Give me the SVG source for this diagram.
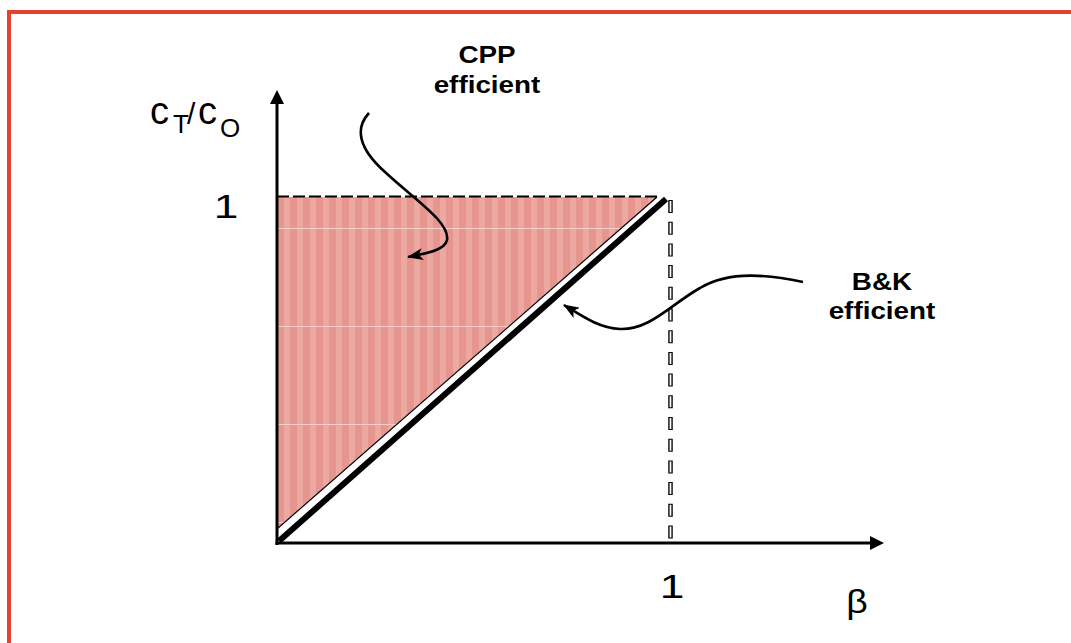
<svg xmlns="http://www.w3.org/2000/svg" width="1071" height="643" viewBox="0 0 1071 643">
<style>
.lbl{font-family:"Liberation Sans",Arial,sans-serif;fill:#000}
.lbl text{font-family:"Liberation Sans",Arial,sans-serif}
.b{font-weight:bold;font-size:24px}
.conn{fill:none;stroke:#000;stroke-width:2.6}
</style>
<defs>
<pattern id="pink" patternUnits="userSpaceOnUse" x="277" y="0" width="13" height="98">
<rect width="13" height="98" fill="#e6968e"/>
<rect x="7" width="6" height="98" fill="#eba9a2"/>
<rect y="32" width="13" height="1" fill="#f4cfcb"/>
</pattern>
<marker id="ah" markerUnits="userSpaceOnUse" markerWidth="16" markerHeight="12" refX="15" refY="6" orient="auto">
<path d="M0,0 L16,6 L0,12 L4,6 z" fill="#000"/>
</marker>
</defs>
<rect width="1071" height="643" fill="#fff"/>
<path d="M9,643 V12 H1071" fill="none" stroke="#e8412f" stroke-width="4"/>

<g id="region">
<polygon points="277,197 657,197 277,529" fill="url(#pink)"/>
<line x1="657" y1="197" x2="277" y2="529" stroke="#000" stroke-width="1.2"/>
<line x1="277" y1="196.5" x2="660" y2="196.5" stroke="#000" stroke-width="2" stroke-dasharray="12 4"/>
</g>

<g id="vdash">
<line x1="670.5" y1="200" x2="670.5" y2="543" stroke="#000" stroke-width="4.5" stroke-dasharray="13 8.7"/>
<line x1="670.5" y1="200" x2="670.5" y2="543" stroke="#fff" stroke-width="1.8" stroke-dasharray="11 10.7" stroke-dashoffset="-1"/>
</g>

<g id="diag">
<line x1="279" y1="541" x2="666" y2="199" stroke="#000" stroke-width="6"/>
</g>

<g id="axes">
<line x1="277" y1="545" x2="277" y2="100" stroke="#000" stroke-width="3"/>
<polygon points="277,90 270,104 284,104" fill="#000"/>
<line x1="275.5" y1="543" x2="872" y2="543" stroke="#000" stroke-width="3"/>
<polygon points="884,543 870,536 870,550" fill="#000"/>
</g>

<g id="ylabel" class="lbl">
<text x="150" y="124" font-size="38">c</text>
<text x="173" y="133" font-size="26">T</text>
<text x="187" y="124" font-size="30">/</text>
<text x="198" y="124" font-size="38">c</text>
<text x="220" y="137" font-size="26">O</text>
</g>
<g id="y1" class="lbl"><text transform="translate(226,218) scale(1.3,1)" font-size="34" text-anchor="middle">1</text></g>
<g id="x1" class="lbl"><text transform="translate(672,598) scale(1.3,1)" font-size="34" text-anchor="middle">1</text></g>
<g id="beta" class="lbl"><text transform="translate(857,613) scale(1.1,1)" font-size="34" text-anchor="middle">β</text></g>

<g id="cpp" class="lbl b">
<text transform="translate(487,63) scale(1.16,1)" text-anchor="middle">CPP</text>
<text transform="translate(487,93) scale(1.16,1)" text-anchor="middle">efficient</text>
</g>
<g id="bk" class="lbl b">
<text transform="translate(882,290) scale(1.16,1)" text-anchor="middle">B&amp;K</text>
<text transform="translate(882,319) scale(1.16,1)" text-anchor="middle">efficient</text>
</g>

<g id="connectors">
<path class="conn" d="M369,113 C355,128 358,148 385,172 C415,200 450,222 447,240 C445,250 428,253 408,257" marker-end="url(#ah)"/>
<path class="conn" d="M803,282 C770,275 730,270 700,288 C670,305 650,330 620,329 C600,328 585,318 564,305" marker-end="url(#ah)"/>
</g>
</svg>
